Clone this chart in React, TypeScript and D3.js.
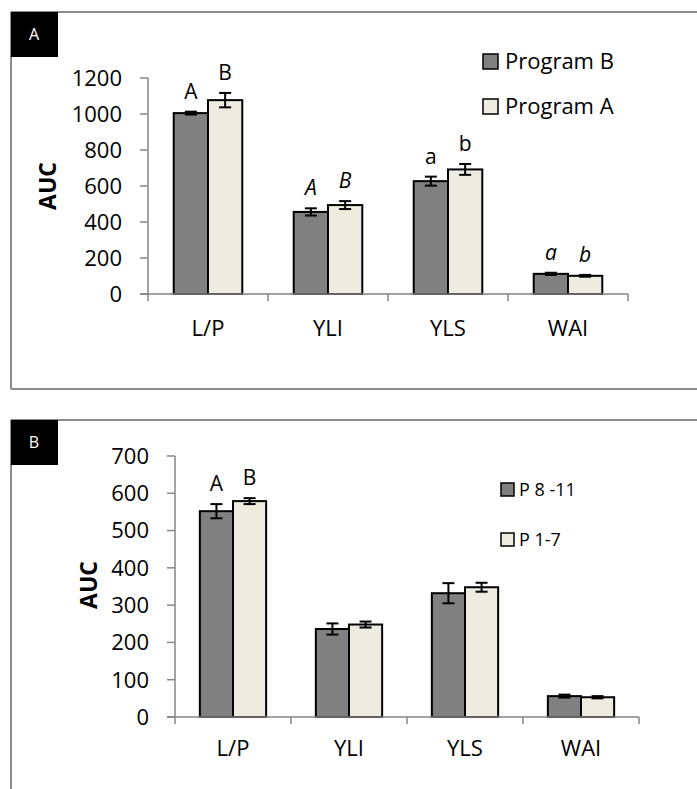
import React from "react";
import * as d3 from "d3";

const categories = ["L/P", "YLI", "YLS", "WAI"];

// Panel A
const aTicks = [0, 200, 400, 600, 800, 1000, 1200];
const aSeriesNames = ["Program B", "Program A"];
const aProgramB = [1005, 456, 627, 112];
const aProgramBErr = [8, 20, 25, 6];
const aProgramA = [1077, 494, 692, 101];
const aProgramAErr = [40, 22, 30, 5];
const aLettersB = ["A", "A", "a", "a"];
const aLettersA = ["B", "B", "b", "b"];
const aItalic = [false, true, false, true];

// Panel B
const bTicks = [0, 100, 200, 300, 400, 500, 600, 700];
const bSeriesNames = ["P 8 -11", "P 1-7"];
const bP811 = [552, 236, 332, 56];
const bP811Err = [19, 15, 27, 4];
const bP17 = [579, 248, 348, 53];
const bP17Err = [8, 8, 12, 3];
const bLetters811 = ["A", "", "", ""];
const bLetters17 = ["B", "", "", ""];
const bItalic = [false, false, false, false];

const FONT = "'Open Sans', Lato, sans-serif";
const COLORS = ["#808080", "#EEECE1"];
const AXIS = "#868686";

type PanelProps = {
  tag: string;
  frameTop: number;
  frameBottom: number | null;
  x0: number;
  x1: number;
  yZero: number;
  yTop: number;
  ticks: number[];
  series: number[][];
  errs: number[][];
  letters: string[][];
  italic: boolean[];
  names: string[];
  legend: { sx: number; sy: number[]; size: number; tx: number; fs: number };
  aucX: number;
  aucY: number;
  xLabelY: number;
};

function Panel(p: PanelProps) {
  const y = d3
    .scaleLinear()
    .domain([0, p.ticks[p.ticks.length - 1]])
    .range([p.yZero, p.yTop]);
  const x = d3
    .scaleBand<string>()
    .domain(categories)
    .range([p.x0, p.x1])
    .paddingInner(0.4286)
    .paddingOuter(0.2143);
  const sub = d3
    .scaleBand<number>()
    .domain([0, 1])
    .range([0, x.bandwidth()]);
  const step = x.step();
  const edges = d3.range(categories.length + 1).map((i) => p.x0 + i * step);

  return (
    <g>
      {/* frame */}
      <line x1={11} x2={11} y1={p.frameTop} y2={p.frameBottom ?? 800} stroke="#8c8c8c" strokeWidth={2} />
      <line x1={11} x2={700} y1={p.frameTop} y2={p.frameTop} stroke="#8c8c8c" strokeWidth={2} />
      {p.frameBottom !== null && (
        <line x1={11} x2={700} y1={p.frameBottom} y2={p.frameBottom} stroke="#8c8c8c" strokeWidth={2} />
      )}
      <rect x={11} y={p.frameTop} width={47} height={45} fill="#000" />
      <text x={34} y={p.frameTop + 28} fill="#fff" fontFamily={FONT} fontSize={16} textAnchor="middle">
        {p.tag}
      </text>

      {/* y axis */}
      <line x1={p.x0} x2={p.x0} y1={y(p.ticks[p.ticks.length - 1])} y2={p.yZero} stroke={AXIS} strokeWidth={1.5} />
      {p.ticks.map((t) => (
        <g key={t}>
          <line x1={p.x0 - 8} x2={p.x0} y1={y(t)} y2={y(t)} stroke={AXIS} strokeWidth={1.5} />
          <text
            x={p.x0 - 26}
            y={y(t)}
            dy="0.36em"
            textAnchor="end"
            fontFamily={FONT}
            fontSize={22}
            fill="#000"
          >
            {t}
          </text>
        </g>
      ))}
      <text
        transform={`translate(${p.aucX},${p.aucY}) rotate(-90)`}
        textAnchor="middle"
        fontFamily={FONT}
        fontWeight="bold"
        fontSize={23}
        fill="#000"
      >
        AUC
      </text>

      {/* bars */}
      {p.series.map((vals, s) =>
        vals.map((v, i) => {
          const bx = (x(categories[i]) as number) + (sub(s) as number);
          const bw = sub.bandwidth();
          const cx = bx + bw / 2;
          const e = p.errs[s][i];
          const lt = p.letters[s][i];
          return (
            <g key={`${s}-${i}`}>
              <rect x={bx} y={y(v)} width={bw} height={p.yZero - y(v)} fill={COLORS[s]} stroke="#000" strokeWidth={2} />
              <line x1={cx} x2={cx} y1={y(v + e)} y2={y(v - e)} stroke="#000" strokeWidth={2} />
              <line x1={cx - 6} x2={cx + 6} y1={y(v + e)} y2={y(v + e)} stroke="#000" strokeWidth={2} />
              <line x1={cx - 6} x2={cx + 6} y1={y(v - e)} y2={y(v - e)} stroke="#000" strokeWidth={2} />
              {lt && (
                <text
                  x={cx}
                  y={y(v + e) - 13}
                  textAnchor="middle"
                  fontFamily={FONT}
                  fontSize={21}
                  fontStyle={p.italic[i] ? "italic" : "normal"}
                  fill="#000"
                >
                  {lt}
                </text>
              )}
            </g>
          );
        })
      )}

      {/* x axis */}
      <line x1={p.x0 - 8} x2={p.x1} y1={p.yZero} y2={p.yZero} stroke={AXIS} strokeWidth={1.5} />
      {edges.map((ex, i) => (
        <line key={i} x1={ex} x2={ex} y1={p.yZero} y2={p.yZero + 7} stroke={AXIS} strokeWidth={1.5} />
      ))}
      {categories.map((c) => (
        <text
          key={c}
          x={(x(c) as number) + x.bandwidth() / 2}
          y={p.xLabelY}
          textAnchor="middle"
          fontFamily={FONT}
          fontSize={22}
          fill="#000"
        >
          {c}
        </text>
      ))}

      {/* legend */}
      {p.names.map((n, s) => (
        <g key={n}>
          <rect
            x={p.legend.sx}
            y={p.legend.sy[s]}
            width={p.legend.size}
            height={p.legend.size}
            fill={COLORS[s]}
            stroke="#000"
            strokeWidth={1.5}
          />
          <text
            x={p.legend.tx}
            y={p.legend.sy[s] + p.legend.size}
            fontFamily={FONT}
            fontSize={p.legend.fs}
            fill="#000"
          >
            {n}
          </text>
        </g>
      ))}
    </g>
  );
}

export default function App() {
  return (
    <svg
      width={697}
      height={789}
      style={{ position: "absolute", left: 0, top: 0, background: "#fff" }}
    >
      <rect width={697} height={789} fill="#fff" />
      <Panel
        tag="A"
        frameTop={12}
        frameBottom={389}
        x0={148}
        x1={628}
        yZero={294}
        yTop={78}
        ticks={aTicks}
        series={[aProgramB, aProgramA]}
        errs={[aProgramBErr, aProgramAErr]}
        letters={[aLettersB, aLettersA]}
        italic={aItalic}
        names={aSeriesNames}
        legend={{ sx: 483, sy: [54, 99], size: 15, tx: 505, fs: 22 }}
        aucX={56}
        aucY={186}
        xLabelY={336}
      />
      <Panel
        tag="B"
        frameTop={420}
        frameBottom={null}
        x0={175}
        x1={639}
        yZero={717}
        yTop={456}
        ticks={bTicks}
        series={[bP811, bP17]}
        errs={[bP811Err, bP17Err]}
        letters={[bLetters811, bLetters17]}
        italic={bItalic}
        names={bSeriesNames}
        legend={{ sx: 501, sy: [483, 533], size: 13, tx: 519, fs: 18 }}
        aucX={97}
        aucY={585}
        xLabelY={756}
      />
    </svg>
  );
}
